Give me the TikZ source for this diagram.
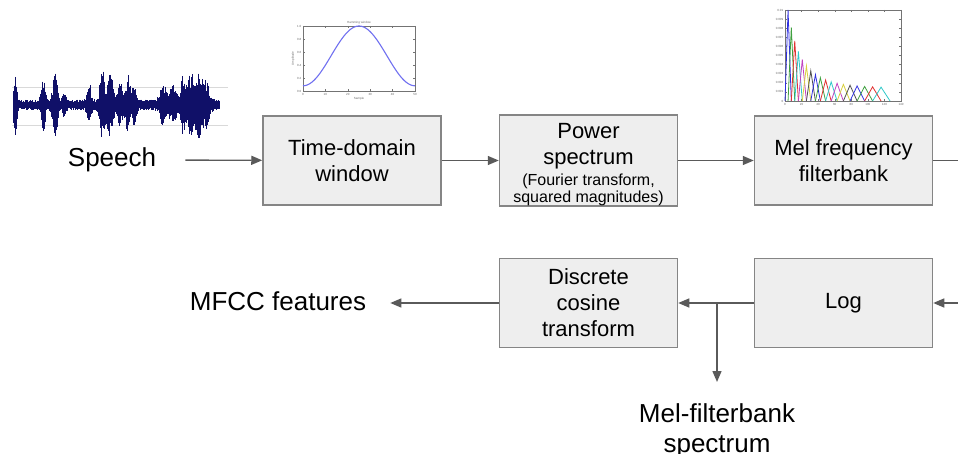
\documentclass[tikz,border=0pt]{standalone}
\usepackage{fontspec}
\setmainfont{Liberation Sans}
\usetikzlibrary{arrows.meta}

\definecolor{boxfill}{HTML}{EEEEEE}
\definecolor{boxline}{HTML}{858585}
\definecolor{conn}{HTML}{5A5A5A}
\definecolor{navywave}{HTML}{101068}
\definecolor{hamblue}{HTML}{7070F0}
\definecolor{fb0}{HTML}{3030E0}
\definecolor{fb1}{HTML}{40A040}
\definecolor{fb2}{HTML}{E03030}
\definecolor{fb3}{HTML}{30C8C8}
\definecolor{fb4}{HTML}{C040C0}
\definecolor{fb5}{HTML}{D8D040}
\definecolor{fb6}{HTML}{505050}

\newcommand\mainsize{\fontsize{22pt}{26pt}\selectfont}
\newcommand\labelsize{\fontsize{26pt}{30pt}\selectfont}
\newcommand\notesize{\fontsize{16pt}{18pt}\selectfont}
\newcommand\ticksize{\fontsize{3pt}{3.5pt}\selectfont}

\begin{document}
\begin{tikzpicture}[x=1pt,y=-1pt,
  stage/.style={draw=boxline, fill=boxfill, line width=1.5pt,
    minimum width=178pt, minimum height=89pt, inner sep=0pt,
    align=center, font=\mainsize},
  outlabel/.style={inner sep=0pt, align=center, font=\labelsize},
  link/.style={draw=conn, line width=1.4pt},
  arr/.style={link, -{Triangle[length=11pt,width=9pt]}},
  wave/.style={navywave, line width=0.8pt},
  tinytext/.style={font=\ticksize, text=black!60, inner sep=0pt}]

\useasboundingbox (0,0) rectangle (958,454);

% ---------- speech waveform ----------
\draw[black!15, line width=0.6pt] (12,87) -- (228,87) (12,125) -- (228,125);
\pgfmathsetseed{11}
\foreach \x in {13,13.5,...,219} {
  \pgfmathsetmacro\env{5.5
    + 32*exp(-min(((\x-15)/1.8)*((\x-15)/1.8),20))
    + 22*exp(-min(((\x-43)/2.5)*((\x-43)/2.5),20))
    + 31*exp(-min(((\x-55)/3)*((\x-55)/3),20))
    + 8*exp(-min(((\x-64)/2)*((\x-64)/2),20))
    + 17*exp(-min(((\x-89)/2.5)*((\x-89)/2.5),20))
    + 30*exp(-min(((\x-102)/3)*((\x-102)/3),20))
    + 26*exp(-min(((\x-110)/4)*((\x-110)/4),20))
    + 20*exp(-min(((\x-120)/3)*((\x-120)/3),20))
    + 24*exp(-min(((\x-128)/3)*((\x-128)/3),20))
    + 15*exp(-min(((\x-134)/3)*((\x-134)/3),20))
    + 16*exp(-min(((\x-163)/4)*((\x-163)/4),20))
    + 16*exp(-min(((\x-173)/4)*((\x-173)/4),20))
    + 26*exp(-min(((\x-183)/3)*((\x-183)/3),20))
    + 28*exp(-min(((\x-191)/4)*((\x-191)/4),20))
    + 28*exp(-min(((\x-199)/4)*((\x-199)/4),20))
    + 18*exp(-min(((\x-206)/4)*((\x-206)/4),20))}
  \pgfmathsetmacro\up{\env*(0.45+0.55*rnd)}
  \pgfmathsetmacro\dn{\env*(0.45+0.55*rnd)}
  \draw[wave] (\x,{105-\up}) -- (\x,{105+\dn});
}

% ---------- Hamming window plot ----------
\draw[black!55, line width=0.5pt] (303,26) rectangle (415,91);
\foreach \i [count=\n from 0] in {0.0,0.2,0.4,0.6,0.8,1.0} {
  \pgfmathsetmacro\yy{91-13*\n}
  \draw[black!55, line width=0.3pt] (303,\yy) -- (305,\yy) (415,\yy) -- (413,\yy);
  \node[tinytext, anchor=east] (hy\n) at (301.5,\yy) {\i};
}
\foreach \i [count=\n from 0] in {0,10,20,30,40,50} {
  \pgfmathsetmacro\xx{303+22.4*\n}
  \draw[black!55, line width=0.3pt] (\xx,91) -- (\xx,89) (\xx,26) -- (\xx,28);
  \node[tinytext] (hx\n) at (\xx,94.5) {\i};
}
\node[tinytext] (htitle) at (359,22.5) {Hamming window};
\node[tinytext] (hxlab) at (359,98.5) {Sample};
\node[tinytext, rotate=90] (hylab) at (293,58.5) {Amplitude};
\draw[hamblue, line width=1.1pt, domain=0:1, samples=80]
  plot ({303+112*\x},{91-65*(0.54-0.46*cos(360*\x))});

% ---------- Mel filterbank plot ----------
\draw[black!55, line width=0.5pt] (785,10) rectangle (901,101);
\foreach \lab [count=\n from 0] in {0,0.001,0.002,0.003,0.004,0.005,0.006,0.007,0.008,0.009,0.01} {
  \pgfmathsetmacro\yy{101-9.1*\n}
  \draw[black!55, line width=0.3pt] (785,\yy) -- (787,\yy) (901,\yy) -- (899,\yy);
  \node[tinytext, anchor=east] (fy\n) at (783.5,\yy) {\lab};
}
\foreach \i [count=\n from 0] in {0,20,40,60,80,100,120,140} {
  \pgfmathsetmacro\xx{785+16.571*\n}
  \draw[black!55, line width=0.3pt] (\xx,101) -- (\xx,99) (\xx,10) -- (\xx,12);
  \node[tinytext] (fx\n) at (\xx,104.5) {\i};
}
% triangular filters on a warped (mel-like) axis
\foreach \k in {1,...,18} {
  \pgfmathsetmacro\pa{785+49.4*(exp(0.06*(\k-1))-1)}
  \pgfmathsetmacro\pb{785+49.4*(exp(0.06*\k)-1)}
  \pgfmathsetmacro\pc{785+49.4*(exp(0.06*(\k+1))-1)}
  \pgfmathsetmacro\hh{0.14+0.86*exp(-(\k-1)/4)}
  \pgfmathtruncatemacro\ci{mod(\k-1,7)}
  \draw[color=fb\ci, line width=0.8pt]
    (\pa,101) -- (\pb,{101-91*\hh}) -- (\pc,101);
}

% ---------- processing stages ----------
\node[stage] (tdw) at (352,160.5) {Time-domain\\window};
\node[stage] (ps)  at (588.5,160.5)
  {\rule{0pt}{24pt}Power\\spectrum\\[-5pt]{\notesize (Fourier transform,}\\[-9pt]{\notesize squared magnitudes)}};
\node[stage] (mel) at (843.5,160.5) {Mel frequency\\filterbank};
\node[stage] (log) at (843.5,303) {Log};
\node[stage] (dct) at (588.5,303) {Discrete\\cosine\\transform};

\node[outlabel] (speech) at (112,160) {Speech};
\node[outlabel] (mfcc) at (278,301) {MFCC features};
\node[outlabel, anchor=north] (mfs) at (717,403) {Mel-filterbank\\spectrum};

\coordinate (outR) at (958,160.5);
\coordinate (inR)  at (958,303);
\coordinate (split) at (717,303);

% ---------- connectors ----------
\draw[arr, shorten <=29pt] (speech) -- (tdw);
\draw[arr] (tdw) -- (ps);
\draw[arr] (ps) -- (mel);
\draw[link] (mel.east) -- (outR);
\draw[arr] (inR) -- (log.east);
\draw[arr] (log) -- (dct);
\draw[arr, shorten >=24pt] (dct.west) -- (mfcc.east |- dct.west);
\draw[arr, shorten >=21pt] (split) -- (mfs.north);

\end{tikzpicture}
\end{document}
